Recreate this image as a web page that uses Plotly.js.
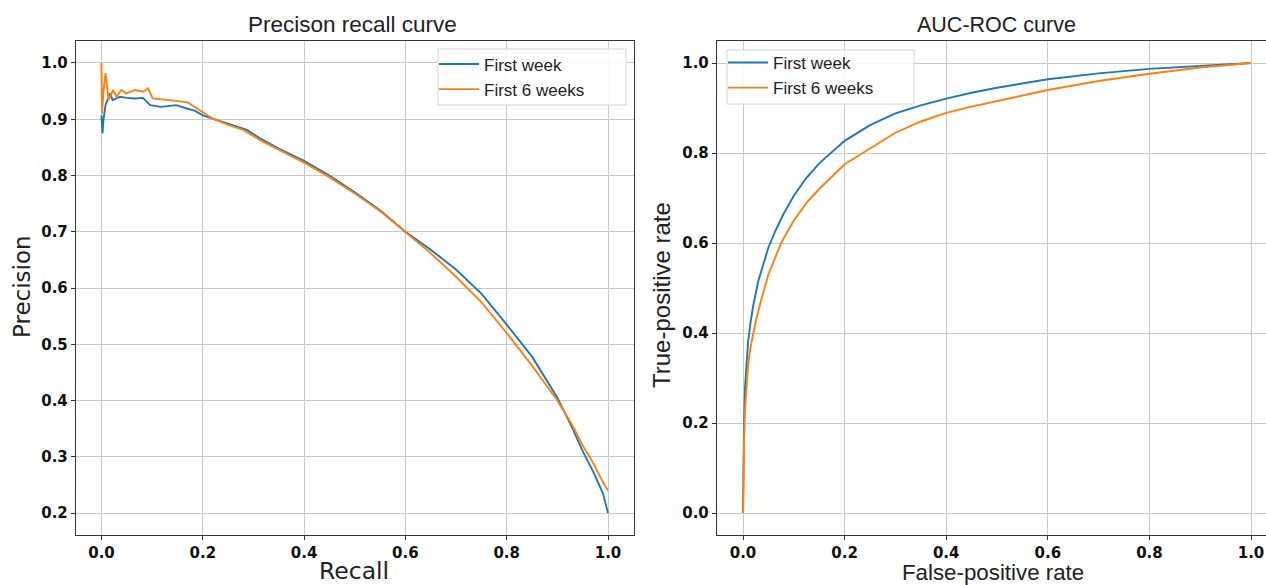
<!DOCTYPE html>
<html>
<head>
<meta charset="utf-8">
<script src="https://cdn.plot.ly/plotly-3.0.1.min.js"></script>
<style>html,body{margin:0;padding:0;background:#fff;}#chart{width:1266px;height:585px;}</style>
</head>
<body>
<div id="chart"></div>
<script>
// ---- Data ----
const seriesNames = ["First week", "First 6 weeks"];
const prTitle = "Precison recall curve";
const rocTitle = "AUC-ROC curve";

const prWeekRecall = [0, 0.002, 0.004, 0.008, 0.012, 0.017, 0.022, 0.03, 0.037, 0.05, 0.065, 0.082, 0.096, 0.117, 0.135, 0.148, 0.165, 0.185, 0.2, 0.227, 0.26, 0.287, 0.313, 0.35, 0.4, 0.45, 0.5, 0.55, 0.6, 0.65, 0.7, 0.75, 0.8, 0.85, 0.9, 0.93, 0.95, 0.97, 0.99, 1.0];
const prWeekPrecision = [0.907, 0.875, 0.9, 0.925, 0.935, 0.946, 0.934, 0.938, 0.94, 0.938, 0.937, 0.938, 0.925, 0.922, 0.923, 0.925, 0.92, 0.915, 0.907, 0.899, 0.89, 0.881, 0.866, 0.848, 0.826, 0.8, 0.77, 0.738, 0.7, 0.668, 0.633, 0.59, 0.535, 0.478, 0.405, 0.35, 0.31, 0.275, 0.235, 0.2];

const pr6Recall = [0, 0.001, 0.004, 0.008, 0.014, 0.023, 0.03, 0.039, 0.049, 0.066, 0.082, 0.092, 0.101, 0.12, 0.135, 0.17, 0.2, 0.22, 0.25, 0.28, 0.313, 0.35, 0.4, 0.45, 0.5, 0.55, 0.6, 0.65, 0.7, 0.75, 0.8, 0.85, 0.9, 0.93, 0.95, 0.97, 0.99, 1.0];
const pr6Precision = [1.0, 0.91, 0.95, 0.982, 0.934, 0.952, 0.94, 0.952, 0.946, 0.952, 0.949, 0.955, 0.937, 0.936, 0.934, 0.93, 0.913, 0.901, 0.89, 0.881, 0.863, 0.846, 0.823, 0.797, 0.768, 0.737, 0.7, 0.662, 0.62, 0.575, 0.52, 0.462, 0.4, 0.355, 0.32, 0.29, 0.255, 0.24];

const rocWeekFpr = [0, 0.001, 0.002, 0.004, 0.007, 0.01, 0.015, 0.02, 0.03, 0.04, 0.05, 0.065, 0.08, 0.1, 0.125, 0.15, 0.175, 0.2, 0.25, 0.3, 0.35, 0.4, 0.45, 0.5, 0.6, 0.7, 0.8, 0.9, 0.95, 1.0];
const rocWeekTpr = [0, 0.12, 0.2, 0.28, 0.34, 0.38, 0.425, 0.46, 0.515, 0.555, 0.59, 0.63, 0.665, 0.705, 0.745, 0.777, 0.803, 0.827, 0.862, 0.888, 0.906, 0.921, 0.934, 0.945, 0.964, 0.977, 0.987, 0.994, 0.997, 1.0];

const roc6Fpr = [0, 0.001, 0.002, 0.004, 0.007, 0.01, 0.015, 0.02, 0.026, 0.035, 0.05, 0.075, 0.1, 0.125, 0.15, 0.2, 0.236, 0.25, 0.3, 0.35, 0.4, 0.45, 0.5, 0.6, 0.7, 0.8, 0.9, 0.95, 1.0];
const roc6Tpr = [0, 0.1, 0.16, 0.23, 0.29, 0.33, 0.37, 0.4, 0.43, 0.47, 0.53, 0.6, 0.65, 0.689, 0.72, 0.775, 0.8, 0.81, 0.845, 0.87, 0.889, 0.903, 0.915, 0.94, 0.96, 0.976, 0.99, 0.995, 1.0];

const prTicksY = [0.2, 0.3, 0.4, 0.5, 0.6, 0.7, 0.8, 0.9, 1.0];
const rocTicksY = [0.0, 0.2, 0.4, 0.6, 0.8, 1.0];
const ticksX = [0.0, 0.2, 0.4, 0.6, 0.8, 1.0];

// ---- Styles ----
const BLUE = "#1f77b4", ORANGE = "#ff7f0e";
const W = 1266, H = 585;
const lineW = 1.9;

const traces = [
  {x: prWeekRecall, y: prWeekPrecision, name: seriesNames[0], mode: "lines", line: {color: BLUE, width: lineW}, xaxis: "x", yaxis: "y", legend: "legend"},
  {x: pr6Recall, y: pr6Precision, name: seriesNames[1], mode: "lines", line: {color: ORANGE, width: lineW}, xaxis: "x", yaxis: "y", legend: "legend"},
  {x: rocWeekFpr, y: rocWeekTpr, name: seriesNames[0], mode: "lines", line: {color: BLUE, width: lineW}, xaxis: "x2", yaxis: "y2", legend: "legend2"},
  {x: roc6Fpr, y: roc6Tpr, name: seriesNames[1], mode: "lines", line: {color: ORANGE, width: lineW}, xaxis: "x2", yaxis: "y2", legend: "legend2"}
];

const tickFont = {family: "DejaVu Sans", size: 15, color: "#111", weight: "bold"};
function ax(extra) {
  return Object.assign({
    showgrid: true, gridcolor: "#c9c9c9", gridwidth: 1,
    zeroline: false, showline: true, linecolor: "#333", linewidth: 1.2, mirror: true,
    ticks: "outside", ticklen: 4, tickcolor: "#333", tickwidth: 1,
    tickfont: tickFont, tickformat: ".1f", fixedrange: true
  }, extra);
}

const legendBase = {
  bgcolor: "rgba(255,255,255,0)", borderwidth: 0,
  font: {family: "Liberation Sans", size: 17, color: "#222"},
  xanchor: "left", yanchor: "top", tracegroupgap: 0, itemwidth: 40
};

function legendBox(x0, x1, y0, y1) {
  return {type: "rect", xref: "paper", yref: "paper", layer: "above",
    x0: x0 / W, x1: x1 / W, y0: 1 - y1 / H, y1: 1 - y0 / H,
    fillcolor: "rgba(255,255,255,0.88)", line: {color: "#d4d4d4", width: 1}};
}

const layout = {
  width: W, height: H,
  margin: {l: 0, r: 0, t: 0, b: 0},
  paper_bgcolor: "#fff", plot_bgcolor: "#fff",
  showlegend: true,
  xaxis: ax({domain: [76 / W, 634 / W], range: [-0.0503, 1.0513], tickvals: ticksX, anchor: "y"}),
  yaxis: ax({domain: [1 - 535 / H, 1 - 41 / H], range: [0.1609, 1.0391], tickvals: prTicksY, anchor: "x"}),
  xaxis2: ax({domain: [717 / W, 1], range: [-0.0512, 1.0295], tickvals: ticksX, anchor: "y2"}),
  yaxis2: ax({domain: [1 - 535 / H, 1 - 41 / H], range: [-0.0489, 1.0489], tickvals: rocTicksY, anchor: "x2"}),
  legend: Object.assign({}, legendBase, {x: 434 / W, y: 1 - 46.5 / H}),
  legend2: Object.assign({}, legendBase, {x: 723 / W, y: 1 - 45 / H}),
  shapes: [legendBox(438, 626, 49, 105), legendBox(727, 914, 50, 104)],
  annotations: [
    {text: prTitle, x: 352 / W, y: 1 - 25 / H, xref: "paper", yref: "paper", showarrow: false, xanchor: "center", yanchor: "middle", font: {family: "Liberation Sans", size: 22.5, color: "#222"}},
    {text: rocTitle, x: 996 / W, y: 1 - 25 / H, xref: "paper", yref: "paper", showarrow: false, xanchor: "center", yanchor: "middle", font: {family: "Liberation Sans", size: 21.5, color: "#222"}},
    {text: "Recall", x: 354 / W, y: 1 - 571 / H, xref: "paper", yref: "paper", showarrow: false, xanchor: "center", yanchor: "middle", font: {family: "DejaVu Sans", size: 23.5, color: "#222"}},
    {text: "Precision", x: 22 / W, y: 1 - 287 / H, xref: "paper", yref: "paper", showarrow: false, xanchor: "center", yanchor: "middle", textangle: -90, font: {family: "DejaVu Sans", size: 23, color: "#222"}},
    {text: "False-positive rate", x: 993 / W, y: 1 - 572 / H, xref: "paper", yref: "paper", showarrow: false, xanchor: "center", yanchor: "middle", font: {family: "Liberation Sans", size: 22.3, color: "#222"}},
    {text: "True-positive rate", x: 661 / W, y: 1 - 295 / H, xref: "paper", yref: "paper", showarrow: false, xanchor: "center", yanchor: "middle", textangle: -90, font: {family: "Liberation Sans", size: 24, color: "#222"}}
  ]
};

Plotly.newPlot("chart", traces, layout, {displayModeBar: false, staticPlot: true});
</script>
</body>
</html>
